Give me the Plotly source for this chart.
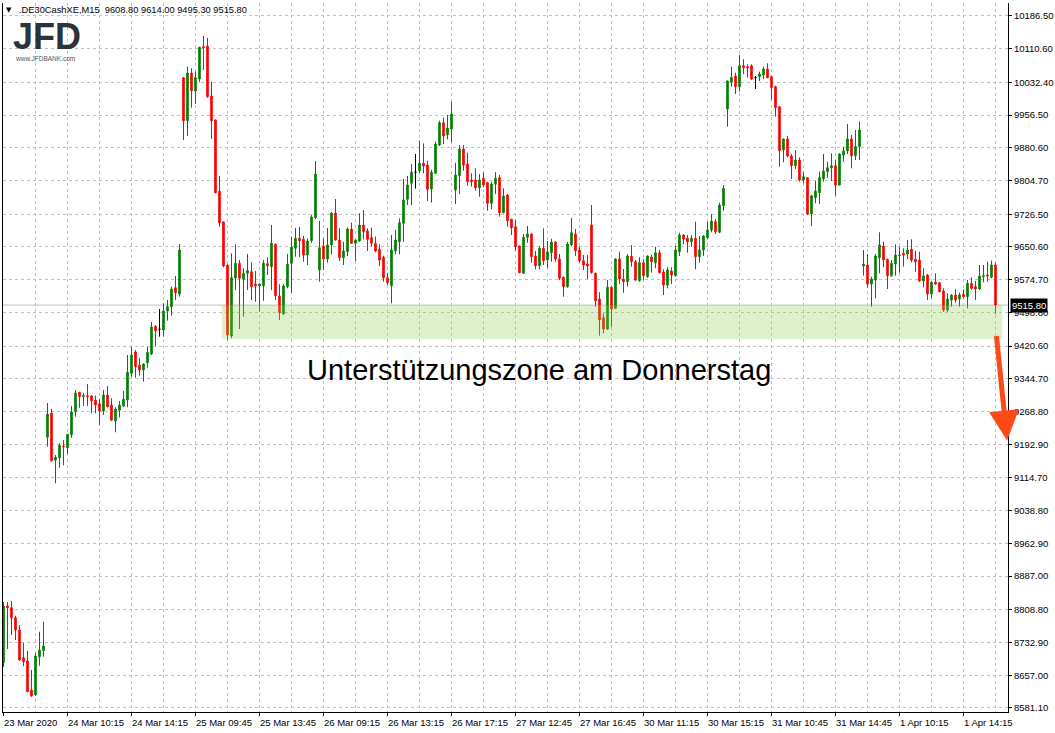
import numpy as np
import plotly.graph_objects as go

# ---------------- data (DE30 Cash, M15, 23 Mar 2020 14:45 -> 1 Apr 2020 16:15) ----------------
opens = [
    8686.1, 8817.7, 8813.7, 8790.5, 8762.0, 8697.7, 8690.1, 8622.8, 8611.2, 8700.1, 8714.0,
    9209.1, 9265.4, 9156.4, 9161.7, 9188.9, 9184.9, 9215.1, 9268.5, 9313.5, 9303.3,
    9305.6, 9304.9, 9295.6, 9287.0, 9270.1, 9307.2, 9284.0, 9246.9, 9272.4, 9281.7,
    9295.6, 9357.5, 9407.0, 9376.8, 9365.2, 9382.1, 9402.3, 9466.6, 9459.6, 9458.0,
    9502.1, 9512.1, 9556.1, 9541.5, 10043.3, 9943.6, 10054.2, 10012.5, 10040.3, 10115.3,
    10116.9, 10000.9, 9945.2, 9779.8, 9708.6, 9608.8, 9444.1, 9578.6, 9612.7, 9575.6,
    9589.5, 9593.3, 9564.7, 9560.1, 9560.8, 9611.8, 9604.9, 9656.8, 9536.9, 9495.1,
    9558.5, 9612.7, 9647.5, 9670.7, 9668.4, 9632.0, 9665.2, 9718.5, 9597.2, 9652.9,
    9622.7, 9655.2, 9729.4, 9666.8, 9625.7, 9639.7, 9692.3, 9659.1, 9664.5, 9701.6,
    9687.7, 9672.1, 9659.1, 9645.2, 9626.7, 9579.3, 9560.8, 9641.3, 9662.9, 9705.5,
    9761.2, 9798.3, 9823.9, 9827.6, 9844.7, 9840.8, 9785.1, 9821.5, 9887.2, 9938.9,
    9910.4, 9924.3, 9782.8, 9816.0, 9877.9, 9843.1, 9806.0, 9806.0, 9788.1, 9809.9,
    9799.7, 9751.9, 9796.0, 9811.3, 9730.1, 9771.2, 9714.8, 9697.7, 9652.9, 9589.5,
    9673.1, 9680.7, 9629.7, 9607.2, 9647.5, 9620.4, 9637.3, 9662.2, 9622.7, 9580.3,
    9558.5, 9655.2, 9680.7, 9643.6, 9618.8, 9611.1, 9701.6, 9589.5, 9529.9, 9486.5,
    9460.3, 9557.1, 9508.3, 9622.7, 9576.3, 9570.1, 9629.7, 9616.5, 9572.4, 9614.1,
    9581.7, 9627.4, 9614.1, 9637.3, 9592.6, 9562.4, 9594.9, 9584.0, 9639.7, 9678.4,
    9670.7, 9662.9, 9670.7, 9628.1, 9643.6, 9672.1, 9690.0, 9709.3, 9684.7, 9746.4,
    9970.7, 10032.7, 10047.3, 10022.5, 10071.2, 10068.9, 10071.2, 10043.3, 10045.7, 10049.6,
    10063.5, 10045.7, 10022.5, 9976.1, 9875.6, 9901.1, 9861.7, 9839.2, 9852.4, 9806.0,
    9811.3, 9727.1, 9764.9, 9776.5, 9808.3, 9825.3, 9834.5, 9839.2, 9794.4, 9864.0,
    9873.3, 9901.1, 9862.4, 9883.3, 9606.5, 9608.8, 9564.7, 9574.0, 9625.7, 9652.9,
    9622.0, 9584.0, 9611.1, 9630.4, 9635.9, 9634.3, 9645.2, 9622.0, 9620.4, 9571.7,
    9585.6, 9541.5, 9568.7, 9567.7, 9548.5, 9504.4, 9527.6, 9539.2, 9529.9, 9540.8,
    9535.3, 9566.3, 9558.5, 9553.1, 9581.7, 9585.6, 9580.3, 9608.8,
]
highs = [
    8827.0, 8827.0, 8829.3, 8795.2, 8773.6, 8732.5, 8713.3, 8669.2, 8708.6, 8758.1, 8781.3,
    9288.6, 9274.7, 9168.0, 9195.1, 9202.8, 9216.7, 9281.7, 9318.8, 9314.5, 9311.8,
    9332.7, 9307.2, 9305.6, 9297.9, 9318.8, 9328.1, 9299.5, 9278.7, 9293.3, 9316.5,
    9400.0, 9419.3, 9411.6, 9393.0, 9381.0, 9419.3, 9476.6, 9469.6, 9506.7, 9519.9,
    9527.6, 9558.5, 9583.3, 9657.5, 10045.0, 10068.9, 10065.1, 10058.2, 10115.0, 10140.1,
    10135.4, 10034.1, 9946.8, 9815.3, 9710.2, 9610.0, 9635.9, 9656.8, 9620.4, 9601.1,
    9634.3, 9615.1, 9594.9, 9566.3, 9620.4, 9626.7, 9701.6, 9659.1, 9564.0, 9564.7,
    9634.3, 9674.5, 9694.6, 9697.0, 9676.1, 9670.7, 9724.8, 9850.1, 9710.9, 9670.7,
    9694.6, 9731.0, 9761.9, 9693.9, 9662.9, 9695.3, 9706.9, 9668.0, 9728.7, 9736.4,
    9693.9, 9695.3, 9674.5, 9656.8, 9630.4, 9590.9, 9678.4, 9690.0, 9717.1, 9808.3,
    9815.3, 9843.1, 9866.3, 9897.2, 9891.1, 9850.8, 9829.2, 9894.9, 9943.6, 9950.5,
    9956.8, 9987.0, 9846.1, 9887.2, 9887.2, 9869.3, 9821.5, 9833.1, 9819.9, 9823.9,
    9802.1, 9802.1, 9823.9, 9817.6, 9786.7, 9773.5, 9716.0, 9713.2, 9654.0, 9680.7,
    9699.3, 9682.0, 9641.3, 9652.9, 9693.9, 9664.5, 9669.8, 9664.5, 9634.3, 9582.0,
    9662.2, 9717.8, 9692.3, 9651.3, 9632.0, 9632.0, 9748.0, 9591.0, 9545.5, 9496.7,
    9574.0, 9558.5, 9624.3, 9639.7, 9599.5, 9634.3, 9655.2, 9620.4, 9626.7, 9622.0,
    9631.0, 9632.0, 9651.3, 9643.6, 9598.8, 9603.5, 9603.5, 9652.9, 9683.7, 9680.7,
    9678.4, 9678.4, 9709.3, 9676.1, 9678.4, 9709.3, 9727.1, 9715.5, 9753.3, 9794.4,
    10037.0, 10068.9, 10054.9, 10096.0, 10086.0, 10074.4, 10074.4, 10047.3, 10057.3, 10068.9,
    10076.7, 10047.0, 10024.8, 9977.0, 9902.0, 9908.1, 9866.3, 9875.6, 9858.7, 9825.3,
    9813.0, 9771.0, 9803.7, 9825.3, 9866.3, 9848.5, 9867.9, 9852.4, 9867.9, 9883.3,
    9935.9, 9910.4, 9922.0, 9941.3, 9643.6, 9634.3, 9581.7, 9634.3, 9684.7, 9662.9,
    9623.5, 9620.4, 9656.8, 9651.3, 9647.5, 9666.8, 9668.4, 9642.0, 9639.7, 9601.1,
    9587.9, 9570.1, 9589.5, 9569.0, 9554.7, 9543.1, 9540.8, 9552.4, 9544.5, 9552.4,
    9574.0, 9580.3, 9571.7, 9608.8, 9608.8, 9616.5, 9618.8, 9614.0,
]
lows = [
    8676.2, 8717.9, 8750.4, 8738.8, 8690.1, 8678.5, 8618.2, 8607.0, 8609.0, 8679.2, 8700.1,
    9187.3, 9152.5, 9102.3, 9138.5, 9144.1, 9170.3, 9208.1, 9256.9, 9277.7, 9281.7,
    9281.7, 9264.7, 9264.7, 9237.6, 9260.8, 9278.7, 9246.9, 9220.7, 9255.5, 9278.7,
    9278.7, 9349.7, 9347.3, 9352.0, 9338.1, 9370.5, 9400.0, 9420.9, 9442.5, 9442.5,
    9479.6, 9491.2, 9527.6, 9535.3, 9898.8, 9908.1, 9973.7, 9982.3, 10032.7, 10061.2,
    9997.0, 9901.1, 9775.0, 9697.7, 9603.5, 9434.8, 9438.7, 9550.8, 9460.3, 9488.9,
    9550.8, 9527.6, 9523.7, 9500.5, 9526.0, 9585.6, 9550.8, 9527.6, 9481.2, 9493.0,
    9554.7, 9544.5, 9628.1, 9626.7, 9616.5, 9608.8, 9660.5, 9715.5, 9570.1, 9597.2,
    9614.1, 9633.6, 9665.2, 9618.1, 9608.8, 9629.7, 9657.5, 9618.1, 9662.9, 9668.4,
    9641.3, 9651.3, 9638.3, 9606.5, 9570.1, 9562.4, 9519.9, 9633.6, 9633.6, 9662.9,
    9748.0, 9748.0, 9785.8, 9821.5, 9821.5, 9757.3, 9753.3, 9819.9, 9884.9, 9889.5,
    9900.4, 9892.5, 9750.3, 9773.5, 9827.6, 9792.8, 9790.5, 9781.2, 9767.3, 9789.1,
    9734.8, 9738.0, 9773.5, 9720.9, 9728.7, 9697.7, 9678.4, 9642.0, 9589.5, 9587.9,
    9660.5, 9614.1, 9598.8, 9598.8, 9608.8, 9602.5, 9616.5, 9616.5, 9574.0, 9535.3,
    9556.0, 9653.0, 9629.7, 9614.1, 9597.2, 9576.3, 9589.0, 9512.1, 9444.8, 9450.3,
    9458.0, 9465.7, 9506.7, 9564.7, 9544.5, 9558.5, 9604.9, 9571.7, 9570.0, 9574.0,
    9579.0, 9590.9, 9601.1, 9589.5, 9539.2, 9554.7, 9564.7, 9581.7, 9629.7, 9656.8,
    9637.3, 9651.3, 9598.8, 9614.1, 9629.7, 9669.1, 9684.7, 9680.7, 9682.3, 9734.8,
    9929.7, 10022.5, 10005.5, 10010.9, 10051.9, 10043.3, 10038.0, 10017.1, 10035.7, 10040.3,
    10041.9, 9991.6, 9952.9, 9836.9, 9847.1, 9858.7, 9808.3, 9831.5, 9802.1, 9798.3,
    9725.0, 9699.3, 9751.9, 9750.3, 9802.1, 9811.3, 9803.7, 9769.6, 9793.0, 9848.5,
    9866.3, 9833.1, 9852.4, 9852.4, 9584.0, 9556.1, 9512.1, 9531.5, 9589.5, 9603.5,
    9553.1, 9581.7, 9584.0, 9590.9, 9604.9, 9622.7, 9615.1, 9593.3, 9570.1, 9557.1,
    9527.6, 9531.5, 9562.4, 9545.5, 9500.0, 9499.8, 9512.1, 9521.3, 9512.1, 9531.5,
    9508.3, 9550.8, 9527.6, 9551.0, 9568.7, 9570.1, 9577.9, 9495.3,
]
closes = [
    8817.7, 8813.7, 8790.5, 8762.0, 8692.4, 8688.5, 8618.9, 8608.9, 8701.7, 8715.6, 8724.9,
    9263.1, 9154.8, 9162.7, 9190.5, 9187.3, 9216.0, 9267.8, 9311.8, 9303.3, 9305.6,
    9303.3, 9294.0, 9284.0, 9270.1, 9307.2, 9280.1, 9249.2, 9274.7, 9284.0, 9297.2,
    9359.9, 9400.0, 9372.9, 9365.2, 9379.1, 9406.3, 9465.0, 9456.4, 9459.6, 9502.1,
    9512.1, 9553.1, 9544.5, 9643.6, 9943.6, 10054.2, 10013.2, 10043.3, 10113.9, 10112.9,
    9999.3, 9943.6, 9776.5, 9706.9, 9606.5, 9446.4, 9579.3, 9612.7, 9577.9, 9589.5,
    9595.6, 9558.5, 9560.1, 9564.7, 9612.7, 9607.2, 9659.1, 9537.6, 9498.1, 9560.1,
    9611.1, 9649.9, 9670.7, 9665.2, 9632.0, 9664.5, 9720.2, 9819.9, 9648.9, 9622.7,
    9655.2, 9729.4, 9666.8, 9625.7, 9641.3, 9692.3, 9659.1, 9666.8, 9701.6, 9686.1,
    9668.4, 9659.1, 9641.3, 9620.4, 9579.3, 9567.7, 9643.6, 9666.8, 9706.9, 9759.6,
    9794.4, 9823.9, 9823.9, 9844.7, 9838.5, 9784.4, 9823.9, 9889.5, 9938.9, 9908.1,
    9926.6, 9959.1, 9817.6, 9877.9, 9840.8, 9802.1, 9802.1, 9788.1, 9806.0, 9794.4,
    9751.9, 9796.7, 9809.9, 9730.1, 9768.9, 9711.6, 9695.3, 9651.3, 9590.9, 9673.1,
    9680.7, 9628.1, 9607.2, 9647.5, 9618.8, 9639.0, 9662.2, 9622.7, 9577.9, 9558.5,
    9657.5, 9683.7, 9642.0, 9618.8, 9608.8, 9606.5, 9590.9, 9526.0, 9481.2, 9460.3,
    9557.1, 9506.7, 9622.7, 9576.3, 9570.1, 9629.7, 9616.5, 9574.0, 9614.1, 9584.0,
    9629.7, 9616.5, 9637.3, 9590.9, 9562.4, 9597.2, 9585.6, 9643.6, 9678.4, 9669.1,
    9662.9, 9670.7, 9628.1, 9643.6, 9676.1, 9690.0, 9710.9, 9686.1, 9748.0, 9786.7,
    10035.7, 10044.3, 10022.5, 10071.2, 10066.5, 10066.5, 10040.3, 10043.3, 10051.9, 10063.5,
    10043.3, 10020.1, 9973.7, 9874.0, 9901.1, 9861.7, 9839.2, 9852.4, 9806.0, 9813.7,
    9727.1, 9769.6, 9780.5, 9811.3, 9826.9, 9834.5, 9839.2, 9794.4, 9866.3, 9873.3,
    9901.1, 9862.4, 9883.3, 9922.0, 9611.1, 9564.7, 9576.3, 9629.7, 9655.2, 9620.4,
    9584.0, 9612.7, 9632.0, 9632.0, 9632.0, 9643.6, 9620.4, 9616.5, 9571.7, 9583.3,
    9541.5, 9568.7, 9564.7, 9546.9, 9504.4, 9529.9, 9539.2, 9527.6, 9539.2, 9535.3,
    9566.3, 9554.7, 9553.1, 9583.3, 9584.0, 9583.3, 9608.8, 9515.8,
]

# x-axis labels: one every 16 bars (MT4 style, left aligned at tick)
time_labels = [
    "23 Mar 2020", "24 Mar 10:15", "24 Mar 14:15", "25 Mar 09:45", "25 Mar 13:45",
    "26 Mar 09:15", "26 Mar 13:15", "26 Mar 17:15", "27 Mar 12:45", "27 Mar 16:45",
    "30 Mar 11:15", "30 Mar 15:15", "31 Mar 10:45", "31 Mar 14:45", "1 Apr 10:15",
    "1 Apr 14:15",
]
label_step = 16
grid_step = 8

# price axis labels
price_ticks = [10186.5, 10110.6, 10032.4, 9956.5, 9880.6, 9804.7, 9726.5, 9650.6,
               9574.7, 9498.8, 9420.6, 9344.7, 9268.8, 9192.9, 9114.7, 9038.8,
               8962.9, 8887.0, 8808.8, 8732.9, 8657.0, 8581.1]

last_price = 9515.80
zone_low, zone_high = 9437.0, 9515.8
zone_start_bar, zone_end_bar = 54.6, 249.7
header = ".DE30CashXE,M15  9608.80 9614.00 9495.30 9515.80"
zone_text = "Unterstützungszone am Donnerstag"

# ---------------- figure ----------------
o = np.array(opens); h = np.array(highs); l = np.array(lows); c = np.array(closes)
n = len(o)
idx = np.arange(n)
doji = np.isclose(o, c)
nd = ~doji

GREEN = "#008000"
RED = "#ff0000"
GRID = "#c0c0c0"
FONT = "Liberation Sans"

fig = go.Figure()
fig.add_trace(go.Candlestick(
    x=idx[nd], open=o[nd], high=h[nd], low=l[nd], close=c[nd],
    increasing=dict(line=dict(color=GREEN, width=1), fillcolor=GREEN),
    decreasing=dict(line=dict(color=RED, width=1), fillcolor=RED),
    whiskerwidth=0, showlegend=False, hoverinfo="skip",
))
fig.add_trace(go.Candlestick(
    x=idx[doji], open=o[doji], high=h[doji], low=l[doji], close=c[doji],
    increasing=dict(line=dict(color="black", width=1), fillcolor="black"),
    decreasing=dict(line=dict(color="black", width=1), fillcolor="black"),
    whiskerwidth=0, showlegend=False, hoverinfo="skip",
))

W, H = 1055, 733
ml, mr, mt, mb = 3, 47, 3, 21
pw = W - ml - mr
x0 = -0.125
x1 = x0 + pw / 4.0
y_top, y_bot = 10216.6, 8571.8

fig.update_layout(
    width=W, height=H,
    margin=dict(l=ml, r=mr, t=mt, b=mb, autoexpand=False),
    paper_bgcolor="white", plot_bgcolor="white",
    font=dict(family=FONT, size=9.5, color="black"),
    boxgap=0.45,
    showlegend=False,
    hovermode=False,
    xaxis=dict(
        range=[x0, x1], rangeslider=dict(visible=False),
        tickmode="linear", tick0=0, dtick=label_step,
        showticklabels=False, ticks="outside", ticklen=3, tickcolor="black", tickwidth=1,
        showgrid=True, gridcolor=GRID, griddash="3px,3px", gridwidth=1,
        minor=dict(tick0=0, dtick=grid_step, showgrid=True, gridcolor=GRID,
                   griddash="3px,3px", gridwidth=1, ticks=""),
        showline=True, linecolor="black", linewidth=1, zeroline=False,
        fixedrange=True,
    ),
    yaxis=dict(
        side="right", range=[y_bot, y_top],
        tickmode="array", tickvals=price_ticks,
        ticktext=[f"{v:.2f}" for v in price_ticks],
        ticks="outside", ticklen=3, tickcolor="black",
        tickfont=dict(family=FONT, size=9.5, color="black"),
        showgrid=True, gridcolor=GRID, griddash="3px,3px", gridwidth=1,
        showline=True, mirror=True, linecolor="black", linewidth=1, zeroline=False,
        fixedrange=True, automargin=False,
    ),
)

shapes = [
    dict(type="line", xref="paper", yref="y", x0=0, x1=1, y0=last_price, y1=last_price,
         line=dict(color=GRID, width=1), layer="between"),
    dict(type="rect", xref="x", yref="y", x0=zone_start_bar, x1=zone_end_bar,
         y0=zone_low, y1=zone_high, fillcolor="rgba(146,208,80,0.30)",
         line=dict(width=0), layer="above"),
]
fig.update_layout(shapes=shapes)

ann = []
for k, lab in enumerate(time_labels):
    ann.append(dict(text=lab, x=k * label_step, xref="x", y=0, yref="paper",
                    xanchor="left", yanchor="top", yshift=-3, xshift=-2, showarrow=False,
                    font=dict(family=FONT, size=9.5, color="black")))

def px_x(p):
    return (p - ml) / pw

def px_y(p):
    return 1 - (p - mt) / (H - mt - mb)

# header
ann.append(dict(text="▼", x=px_x(4), y=px_y(10), xref="paper", yref="paper",
                xanchor="left", yanchor="middle", showarrow=False,
                font=dict(family="DejaVu Sans", size=7, color="black")))
ann.append(dict(text=header, x=px_x(17), y=px_y(10), xref="paper", yref="paper",
                xanchor="left", yanchor="middle", showarrow=False,
                font=dict(family=FONT, size=9.3, color="black")))
# logo
ann.append(dict(text="<b>JFD</b>", x=px_x(11), y=px_y(36), xref="paper", yref="paper",
                xanchor="left", yanchor="middle", showarrow=False,
                font=dict(family=FONT, size=36, color="#2d3236")))
ann.append(dict(text="www.JFDBANK.com", x=px_x(13), y=px_y(58.5), xref="paper", yref="paper",
                xanchor="left", yanchor="middle", showarrow=False,
                font=dict(family=FONT, size=6.5, color="#555555")))
# zone text
ann.append(dict(text=zone_text, x=133.9, y=9365.2, xref="x", yref="y",
                xanchor="center", yanchor="middle", showarrow=False,
                font=dict(family=FONT, size=29, color="black")))
# last price tag
ann.append(dict(text=f"{last_price:.2f}", x=1, xref="paper", y=last_price, yref="y",
                xanchor="left", yanchor="middle", xshift=2, showarrow=False,
                bgcolor="black", borderpad=1,
                font=dict(family=FONT, size=9.5, color="white")))
# arrow
ann.append(dict(text="", x=250.9, y=9201.6, xref="x", yref="y",
                ax=248.2, ay=9447.3, axref="x", ayref="y",
                showarrow=True, arrowhead=2, arrowsize=1.2, arrowwidth=5,
                arrowcolor="#ff4a17", standoff=0))
fig.update_layout(annotations=ann)

fig.write_html(
    "out.html",
    config={"displayModeBar": False, "staticPlot": True},
    post_script="document.body.style.margin='0px';document.body.style.overflow='hidden';",
)
